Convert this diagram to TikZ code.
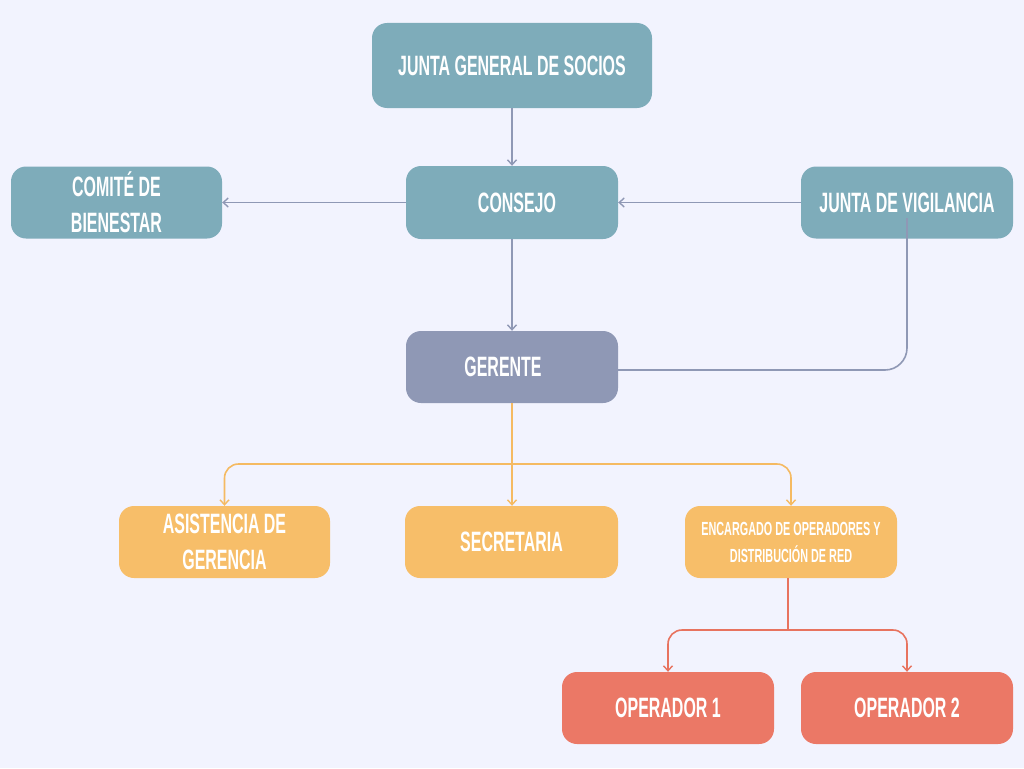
\documentclass[tikz,border=0pt]{standalone}
\usepackage{fontspec}
\setmainfont{Liberation Sans}[FakeStretch=0.57]
\usetikzlibrary{arrows.meta}
\definecolor{bg}{HTML}{F2F3FE}
\definecolor{teal}{HTML}{7EACBA}
\definecolor{ger}{HTML}{8F98B5}
\definecolor{ora}{HTML}{F7BE69}
\definecolor{red}{HTML}{EB7866}
\definecolor{lgray}{HTML}{8F98B5}
\definecolor{lora}{HTML}{F5BA62}
\definecolor{lred}{HTML}{E8735F}
\tikzset{
  box/.style={rounded corners=15pt, minimum width=212pt, minimum height=72pt, inner sep=0pt,
    text=white, font=\bfseries\fontsize{28}{36}\selectfont, align=center},
  tealbox/.style={box, fill=teal},
  gerbox/.style={box, fill=ger},
  orabox/.style={box, fill=ora},
  redbox/.style={box, fill=red},
  conn/.style={line width=1.6pt, -{Straight Barb[length=5pt,width=9pt,line width=1.4pt]}},
  gconn/.style={conn, draw=lgray},
  oconn/.style={conn, draw=lora},
  rconn/.style={conn, draw=lred},
}
\begin{document}
\begin{tikzpicture}[x=1pt,y=-1pt]
\useasboundingbox (0,0) rectangle (1024,768);
\fill[bg] (0,0) rectangle (1024,768);

\node[tealbox, minimum width=280pt, minimum height=85pt] (jg) at (512,65.5) {JUNTA GENERAL DE SOCIOS};
\node[tealbox, minimum height=73pt] (consejo) at (512,202.5) {\hspace*{10pt}CONSEJO};
\node[tealbox, minimum width=211pt] (comite) at (116.5,202.5) {COMITÉ DE\\BIENESTAR};
\node[tealbox] (vig) at (907,202.5) {JUNTA DE VIGILANCIA};
\node[gerbox] (gerente) at (512,367) {GERENTE\hspace*{18pt}};
\node[orabox, minimum width=211pt] (asist) at (224.5,542) {ASISTENCIA DE\\GERENCIA};
\node[orabox, minimum width=213pt] (secre) at (511.5,542) {SECRETARIA};
\node[orabox, font=\bfseries\fontsize{19}{27}\selectfont] (enc) at (791,542) {ENCARGADO DE OPERADORES Y\\DISTRIBUCIÓN DE RED};
\node[redbox] (op1) at (668,708) {OPERADOR 1};
\node[redbox] (op2) at (907,708) {OPERADOR 2};

\draw[gconn] (jg.south) -- (consejo.north);
\draw[gconn] (consejo.west) -- (comite.east);
\draw[gconn] (vig.west) -- (consejo.east);
\draw[gconn] (consejo.south) -- (gerente.north);
\coordinate (vs) at (907,218);
\draw[line width=1.6pt, draw=lgray, rounded corners=22pt] (vs) |- ([yshift=-3pt]gerente.east);

\coordinate (ob) at (512,464);
\draw[oconn] (gerente.south) -- (secre.north -| gerente.south);
\draw[oconn, rounded corners=14pt] (ob) -| (asist.north);
\draw[oconn, rounded corners=14pt] (ob) -| (enc.north);

\coordinate (rb) at (788,630);
\draw[line width=1.6pt, draw=lred] (enc.south -| rb) -- (rb);
\draw[rconn, rounded corners=14pt] (rb) -| (op1.north);
\draw[rconn, rounded corners=14pt] (rb) -| (op2.north);
\end{tikzpicture}
\end{document}
